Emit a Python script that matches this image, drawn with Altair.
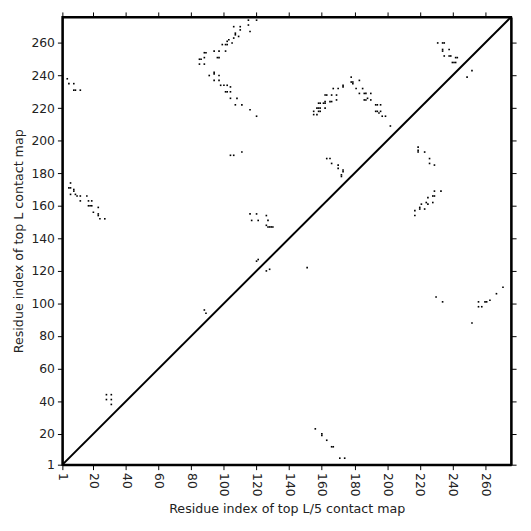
import altair as alt
import pandas as pd

N = 276
tick_values = [1, 20, 40, 60, 80, 100, 120, 140, 160, 180, 200, 220, 240, 260]

# top L contacts (upper-left triangle): residue i (x) < residue j (y)
topL_x = [4, 5, 8, 8, 9, 12,
          6, 5, 6, 8, 8, 6, 9, 10, 12, 12, 16, 17, 19, 17, 18, 19, 23, 20, 23, 23, 24, 27,
          28, 31, 28, 31, 31,
          88, 89,
          115, 120, 115, 110, 106, 116, 110, 107, 107, 109, 106, 103, 102, 105, 101, 102, 99,
          89, 88, 94, 97, 101, 96, 97, 85, 86, 88, 85, 88, 91, 94, 94, 97, 94, 97,
          98, 100, 102, 104, 101, 102, 104, 104, 108, 107, 111, 116, 120,
          104, 106, 111,
          116, 120, 117, 121, 126, 127, 126, 127, 128, 129, 130, 121, 120,
          178, 178, 179, 179, 183, 181, 173, 173, 170, 167, 185, 183, 186, 187, 190,
          169, 166, 162, 163, 188, 186, 187, 190, 169, 165, 166, 162, 161, 162, 158, 159,
          193, 194, 196, 157, 158, 159, 162, 193, 194, 196, 155, 158, 159, 195, 197, 199,
          155, 157, 202,
          163, 165, 166, 170, 170, 173, 173, 172, 172,
          231, 234, 235, 234, 234, 238, 235, 238, 239, 242, 243, 240, 241, 242]
topL_y = [238, 235, 235, 231, 231, 231,
          174, 171, 171, 170, 169, 167, 167, 166, 166, 163, 166, 163, 163, 160, 160, 160, 159, 156, 155, 154, 152, 152,
          44, 44, 41, 41, 38,
          96, 94,
          274, 274, 271, 270, 270, 267, 268, 266, 265, 264, 263, 262, 261, 260, 259, 259, 259,
          254, 254, 255, 255, 255, 251, 251, 250, 250, 251, 247, 247, 240, 241, 242, 240, 237, 237,
          234, 234, 234, 233, 230, 230, 230, 226, 226, 222, 222, 219, 215,
          191, 191, 193,
          155, 155, 151, 151, 154, 151, 148, 147, 147, 147, 147, 127, 126,
          239, 236, 236, 235, 237, 232, 234, 233, 232, 232, 232, 229, 229, 229, 229,
          228, 228, 228, 228, 226, 225, 225, 225, 225, 224, 224, 224, 223, 223, 223, 223,
          222, 222, 222, 220, 220, 220, 220, 218, 218, 218, 218, 218, 218, 217, 215, 215,
          216, 216, 209,
          189, 189, 186, 185, 183, 182, 181, 179, 178,
          260, 260, 260, 256, 255, 256, 252, 252, 252, 251, 251, 248, 248, 248]

# top L/5 contacts (lower-right triangle): residue x > residue y
topL5_x = [126, 128, 151,
           252, 249,
           219, 219, 219, 223, 226, 226, 229, 233, 229, 228, 229, 225, 228, 224, 225, 221,
           220, 220, 223, 217, 217,
           230, 234, 252, 256, 256, 258, 260, 261, 263, 267, 271,
           156, 160, 160, 163, 167, 166, 171, 174]
topL5_y = [120, 121, 122,
           243, 239,
           196, 193, 194, 193, 189, 186, 185, 169, 169, 166, 166, 165, 162, 162, 161, 161,
           159, 158, 158, 157, 154,
           104, 101, 88, 101, 98, 98, 101, 101, 102, 106, 110,
           23, 20, 19, 16, 12, 12, 5, 5]

contacts = pd.DataFrame({
    "x": topL_x + topL5_x,
    "y": topL_y + topL5_y,
    "map": ["top L"] * len(topL_x) + ["top L/5"] * len(topL5_x),
})
diag = pd.DataFrame({"x": [1, N], "y": [1, N]})

xs = alt.Scale(domain=[1, N], nice=False, zero=False)
ys = alt.Scale(domain=[1, N], nice=False, zero=False)

axis_common = dict(values=tick_values, domainColor="black", domainWidth=2,
                   tickColor="black", tickWidth=1, tickSize=5, grid=False,
                   labelColor="#222222", labelFontSize=12.5, labelFont="DejaVu Sans",
                   titleFont="DejaVu Sans", titleFontSize=12.8, titleFontWeight="normal",
                   titleColor="#222222", labelPadding=3)

cells = alt.Chart(contacts).transform_calculate(
    x0="datum.x - 0.5", x1="datum.x + 0.5", y0="datum.y - 0.5", y1="datum.y + 0.5"
).mark_rect(color="black", strokeWidth=0).encode(
    x=alt.X("x0:Q", scale=xs,
            axis=alt.Axis(title="Residue index of top L/5 contact map", orient="bottom",
                          labelAngle=90, labelAlign="left", labelBaseline="middle",
                          titlePadding=7, **axis_common)),
    x2="x1:Q",
    y=alt.Y("y0:Q", scale=ys,
            axis=alt.Axis(title="Residue index of top L contact map", orient="left",
                          titlePadding=5, **axis_common)),
    y2="y1:Q",
)

frame_axis = dict(values=tick_values, domainColor="black", domainWidth=2,
                  tickColor="black", tickWidth=1, tickSize=5, grid=False,
                  labels=False, title=None)

line = alt.Chart(diag).mark_line(color="black", strokeWidth=2, clip=True).encode(
    x=alt.X("x:Q", scale=xs, axis=alt.Axis(orient="top", **frame_axis)),
    y=alt.Y("y:Q", scale=ys, axis=alt.Axis(orient="right", **frame_axis)),
)

chart = alt.layer(cells, line).resolve_axis(x="independent", y="independent").properties(
    width=454, height=453,
    autosize=alt.AutoSizeParams(type="none"),
    padding={"left": 55, "top": 6, "right": 12, "bottom": 56},
).configure_view(stroke="black", strokeWidth=2)

chart.save("out.html", embed_options={"renderer": "svg", "actions": False})
